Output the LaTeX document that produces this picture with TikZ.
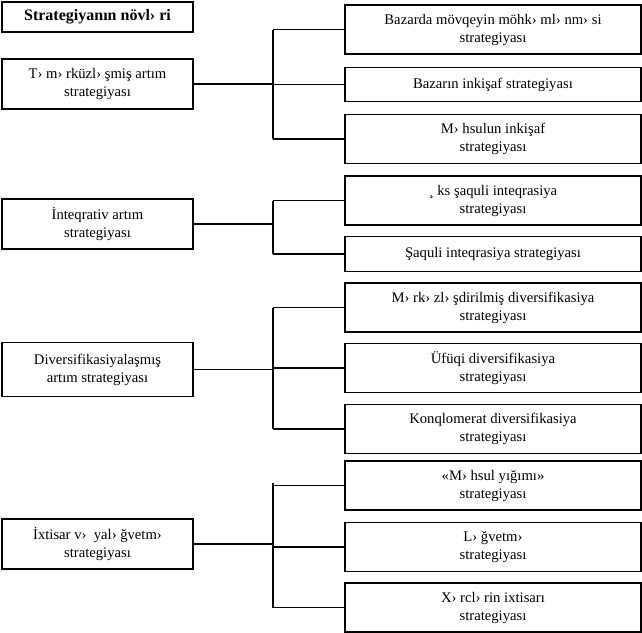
\documentclass[tikz,border=0pt]{standalone}
\usepackage{fontspec}
\setmainfont{Liberation Serif}
\usepackage{tikz}

\begin{document}
\begin{tikzpicture}[
        x=0.75pt, y=-0.75pt,
        box/.style={draw, line width=0.8pt, align=center, inner sep=0pt, font=\fontsize{11}{13.5}\selectfont},
        title/.style={box, minimum width=143.25pt, minimum height=22.5pt, font=\fontsize{12}{13.5}\selectfont\bfseries},
        kind/.style={box, minimum width=143.25pt, minimum height=37.5pt},
        sub/.style={box, minimum width=222pt, minimum height=36.75pt},
        slim/.style={sub, minimum height=26pt}
    ]
        \useasboundingbox (0, 0) rectangle (642, 632);

        \node[title] (head) at (97.5, 17) {Strategiyanın növl› ri};

        \node[kind] (conc) at (97.5, 84) {T› m› rküzl› şmiş artım\\strategiyası};
        \node[kind] (integ) at (97.5, 224) {İnteqrativ artım\\strategiyası};
        \node[kind, minimum height=40pt] (divers) at (97.5, 369.5) {Diversifikasiyalaşmış\\artım strategiyası};
        \node[kind] (reduce) at (97.5, 544) {İxtisar v›~~yal› ğvetm›\\strategiyası};

        \node[sub] (mkt) at (493, 29.5) {Bazarda mövqeyin möhk› ml› nm› si\\strategiyası};
        \node[slim] (mktdev) at (493, 84.5) {Bazarın inkişaf strategiyası};
        \node[sub] (proddev) at (493, 139) {M› hsulun inkişaf\\strategiyası};

        \node[sub] (hinteg) at (493, 200.5) {¸ ks şaquli inteqrasiya\\strategiyası};
        \node[slim] (vinteg) at (493, 254) {Şaquli inteqrasiya strategiyası};

        \node[sub] (cdiv) at (493, 307.5) {M› rk› zl› şdirilmiş diversifikasiya\\strategiyası};
        \node[sub] (hdiv) at (493, 368) {Üfüqi diversifikasiya\\strategiyası};
        \node[sub] (kdiv) at (493, 429) {Konqlomerat diversifikasiya\\strategiyası};

        \node[sub] (harvest) at (493, 485.5) {«M› hsul yığımı»\\strategiyası};
        \node[sub] (liquid) at (493, 547) {L› ğvetm›\\strategiyası};
        \node[sub] (cut) at (493, 607.5) {X› rcl› rin ixtisarı\\strategiyası};

        \coordinate (t1) at (273, 84);
        \coordinate (t2) at (273, 224);
        \coordinate (t3) at (273, 369.5);
        \coordinate (t4) at (273, 544);

        \draw[line width=0.8pt] (conc) -- (t1);
        \draw[line width=0.8pt] (integ) -- (t2);
        \draw[line width=0.8pt] (divers) -- (t3);
        \draw[line width=0.8pt] (reduce) -- (t4);

        \draw[line width=0.8pt] (mkt.west -| t1) -- (proddev.west -| t1);
        \draw[line width=0.8pt] (hinteg.west -| t2) -- (vinteg.west -| t2);
        \draw[line width=0.8pt] (cdiv.west -| t3) -- (kdiv.west -| t3);
        \draw[line width=0.8pt] ([yshift=2pt]harvest.west -| t4) -- (cut.west -| t4);

        \foreach \n/\t in {mkt/t1, mktdev/t1, proddev/t1, hinteg/t2, vinteg/t2,
                cdiv/t3, hdiv/t3, kdiv/t3, harvest/t4, liquid/t4, cut/t4}
            \draw[line width=0.8pt] (\n.west -| \t) -- (\n.west);
    \end{tikzpicture}
\end{document}
